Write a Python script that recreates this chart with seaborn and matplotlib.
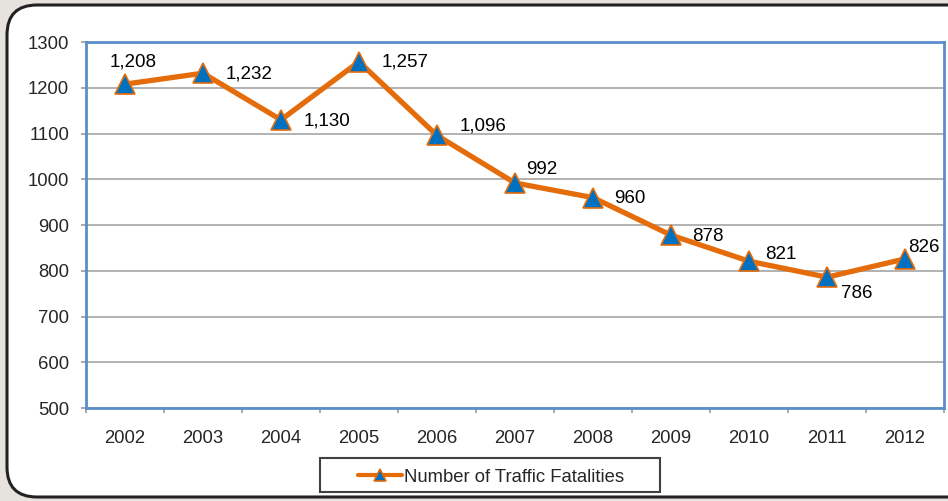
import matplotlib
matplotlib.use("Agg")
import matplotlib.pyplot as plt
import seaborn as sns
import pandas as pd
from matplotlib.patches import FancyBboxPatch, Rectangle
from matplotlib.ticker import FixedLocator

years = ["2002", "2003", "2004", "2005", "2006", "2007", "2008", "2009", "2010", "2011", "2012"]
fatalities = [1208, 1232, 1130, 1257, 1096, 992, 960, 878, 821, 786, 826]
value_labels = ["1,208", "1,232", "1,130", "1,257", "1,096", "992", "960", "878", "821", "786", "826"]
# offsets (points) for each data label, first one is centred above
label_offsets = [(6, 16), (16.5, -0.7), (16, -1), (16, 0), (16, 6.5), (8, 9.5),
                 (15, -0.7), (15, -0.7), (11.5, 5), (10, -12), (2, 8.5)]

df = pd.DataFrame({"year": years, "fatalities": fatalities})

sns.set_style("white")
plt.rcParams["font.family"] = ["Liberation Sans", "DejaVu Sans"]

fig = plt.figure(figsize=(9.48, 5.01), dpi=100)
fig.patch.set_facecolor("#e6e3df")

# rounded white panel behind the chart
panel = FancyBboxPatch((7, 4), 948 * 1.2, 492,
                       boxstyle="round,pad=0,rounding_size=30",
                       transform=None, facecolor="white", edgecolor="#222222",
                       linewidth=2.2, zorder=-5)
fig.patches.append(panel)

ax = fig.add_axes([0.0907, 0.1856, 0.905, 0.7304])
ax.set_facecolor("none")
sns.lineplot(data=df, x="year", y="fatalities", ax=ax, color="#E46C0A", linewidth=3.8,
             marker="^", markersize=15, markerfacecolor="#0070C0", markeredgecolor="#E46C0A",
             markeredgewidth=1.2, sort=False, label="Number of Traffic Fatalities", legend=False)

for i, (v, txt) in enumerate(zip(fatalities, value_labels)):
    dx, dy = label_offsets[i]
    ha = "center" if i == 0 else "left"
    ax.annotate(txt, (i, v), xytext=(dx, dy), textcoords="offset points",
                ha=ha, va="center", fontsize=13.5, color="black")

ax.set_xlim(-0.5, len(years) - 0.5)
ax.set_ylim(500, 1300)
ax.set_yticks(range(500, 1301, 100))
ax.yaxis.grid(True, color="#a6a6a6", linewidth=1.2)
ax.set_axisbelow(True)
ax.set_xlabel("")
ax.set_ylabel("")

ax.set_xticks(range(len(years)))
ax.set_xticklabels(years)
ax.tick_params(axis="x", length=0, pad=16, labelsize=13.3)
ax.xaxis.set_minor_locator(FixedLocator([i - 0.5 for i in range(len(years) + 1)]))
ax.tick_params(axis="x", which="minor", length=3.5, color="#999999", width=1.2)
ax.tick_params(axis="y", length=3.6, color="#999999", width=1.2, pad=8.5, labelsize=13.3)
ax.tick_params(axis="y", direction="out")
ax.yaxis.set_ticks_position("left")
ax.xaxis.set_ticks_position("bottom")

for s in ax.spines.values():
    s.set_visible(True)
    s.set_color("#5B8DC9")
    s.set_linewidth(2)

leg = fig.legend(handles=ax.get_lines()[:1], labels=["Number of Traffic Fatalities"],
                 loc="center", bbox_to_anchor=(0.518, 0.047), frameon=False,
                 fontsize=13.3, handlelength=2.4, handletextpad=0.1,
                 markerscale=0.55)
leg.get_lines()[0].set_linewidth(3)

# legend border drawn as a plain box
fig.patches.append(Rectangle((320, 9), 340, 34, transform=None, fill=False,
                             edgecolor="#404040", linewidth=1.5))

fig.savefig("out.png", dpi=100, facecolor=fig.get_facecolor())
